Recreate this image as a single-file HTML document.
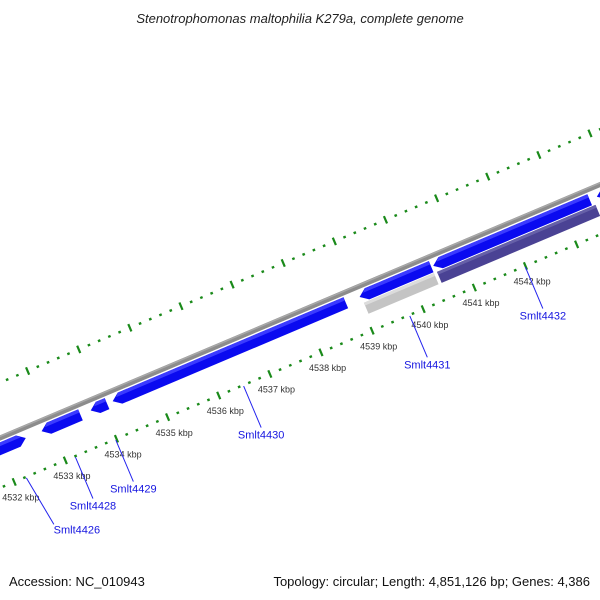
<!DOCTYPE html>
<html><head><meta charset="utf-8"><style>
html,body{margin:0;padding:0;background:#fff}
svg{display:block;font-family:"Liberation Sans",sans-serif}
</style></head><body>
<svg id="map" width="600" height="600" viewBox="0 0 600 600">
<text x="300" y="23" text-anchor="middle" font-size="13" font-style="italic" fill="#222">Stenotrophomonas maltophilia K279a, complete genome</text>
<g id="layer"></g>
<text x="9" y="586" font-size="13" fill="#111">Accession: NC_010943</text>
<text x="590" y="586" text-anchor="end" font-size="13" fill="#111">Topology: circular; Length: 4,851,126 bp; Genes: 4,386</text>
</svg>
<script>
const tickKbp=[4530,4531,4532,4533,4534,4535,4536,4537,4538,4539,4540,4541,4542,4543,4544];
const tickLabels=["4532 kbp","4533 kbp","4534 kbp","4535 kbp","4536 kbp","4537 kbp","4538 kbp","4539 kbp","4540 kbp","4541 kbp","4542 kbp"];
const labelKbp=[4532,4533,4534,4535,4536,4537,4538,4539,4540,4541,4542];
const geneStart=[4531.82,4532.81,4533.77,4534.20,4539.03,4540.47,4543.67];
const geneEnd=[4532.50,4533.57,4534.09,4538.76,4540.43,4543.53,4544.70];
const geneDir=[1,-1,-1,-1,-1,-1,-1];
const featStart=[4539.06,4540.49];
const featEnd=[4540.43,4543.59];
const featColor=["#c4c4c4","#4a4294"];
const geneNames=["Smlt4426","Smlt4428","Smlt4429","Smlt4430","Smlt4431","Smlt4432"];
const geneLabelKbp=[4532.23,4533.19,4533.98,4536.48,4539.73,4541.99];

const NS='http://www.w3.org/2000/svg';
const L=document.getElementById('layer');
const th=22.9*Math.PI/180, ux=Math.cos(th), uy=-Math.sin(th), nx=Math.sin(th), ny=Math.cos(th);
const S=k=>(k-4532)*55.5-4;
function P(k,d){const s=S(k);return [s*ux+d*nx, 438+s*uy+d*ny];}
function el(t,a){const e=document.createElementNS(NS,t);for(const k in a)e.setAttribute(k,a[k]);L.appendChild(e);return e;}
function line(k1,d1,k2,d2,stroke,w){const a=P(k1,d1),b=P(k2,d2);return el('line',{x1:a[0],y1:a[1],x2:b[0],y2:b[1],stroke:stroke,'stroke-width':w});}
let bb=line(4531,0,4544.8,0,'#8c8c8c',5);


let bb2=line(4531,-1.5,4544.8,-1.5,'#a8a8a8',1.5);


const G='#1a8a1a';
tickKbp.forEach(k=>{
  [-51,46].forEach(d=>{
    let t=line(k,d-4,k,d+4,G,2.2);
    
    
    for(let m=1;m<5;m++){
      let q=line(k+m*0.2,d-1.2,k+m*0.2,d+1.2,G,2.6);
      
      
    }
  });
});
labelKbp.forEach((k,i)=>{
  const p=P(k,63);
  const t=el('text',{x:p[0],y:p[1]+3,'text-anchor':'middle','font-size':9,fill:'#333'});
  t.textContent=tickLabels[i];
  
  
});
function poly(pts,fill){return el('polygon',{points:pts.map(p=>p.join(',')).join(' '),fill:fill});}
geneStart.forEach((a,i)=>{
  const b=geneEnd[i],h=6,ah=8/55.5,dir=geneDir[i];
  let pts;
  if(dir>0) pts=[P(a,-h),P(b-ah,-h),P(b,0),P(b-ah,h),P(a,h)];
  else pts=[P(a+ah,-h),P(b,-h),P(b,h),P(a+ah,h),P(a,0)];
  pts=pts.map(p=>[p[0]+10*nx,p[1]+10*ny]);
  const g=poly(pts,'#0a0af0');
  
  
  let hl;
  if(dir>0) hl=[P(a,-h),P(b-ah,-h),P(b-ah*0.6,-h+3.5),P(a,-h+3.5)];
  else hl=[P(a+ah,-h),P(b,-h),P(b,-h+3.5),P(a+ah*0.6,-h+3.5)];
  hl=hl.map(p=>[p[0]+10*nx,p[1]+10*ny]);
  const hh=poly(hl,'#3b3bff');
  
  
});
featStart.forEach((a,i)=>{
  const b=featEnd[i],h=6;
  const pts=[P(a,-h),P(b,-h),P(b,h),P(a,h)].map(p=>[p[0]+23*nx,p[1]+23*ny]);
  const f=poly(pts,featColor[i]);
  
  
  const hl=[P(a,-h),P(b,-h),P(b,-h+3),P(a,-h+3)].map(p=>[p[0]+23*nx,p[1]+23*ny]);
  const hh=poly(hl,i==0?'#dcdcdc':'#6660a8');
  
  
});
geneNames.forEach((n,i)=>{
  const k=geneLabelKbp[i];
  const a=P(k,47), p=P(k,92);
  const shift=(i==0)?10:0;
  const l=el('line',{x1:a[0],y1:a[1],x2:p[0]+shift,y2:p[1]+(i==0?5:0),stroke:'#2222ee','stroke-width':1});
  
  
  const tx=(i==0)?p[0]+shift+23:p[0];
  const t=el('text',{x:tx,y:p[1]+(i==0?14:11),'text-anchor':'middle','font-size':11,fill:'#1515e0'});
  t.textContent=n;
  
  
});
</script>
</body></html>
